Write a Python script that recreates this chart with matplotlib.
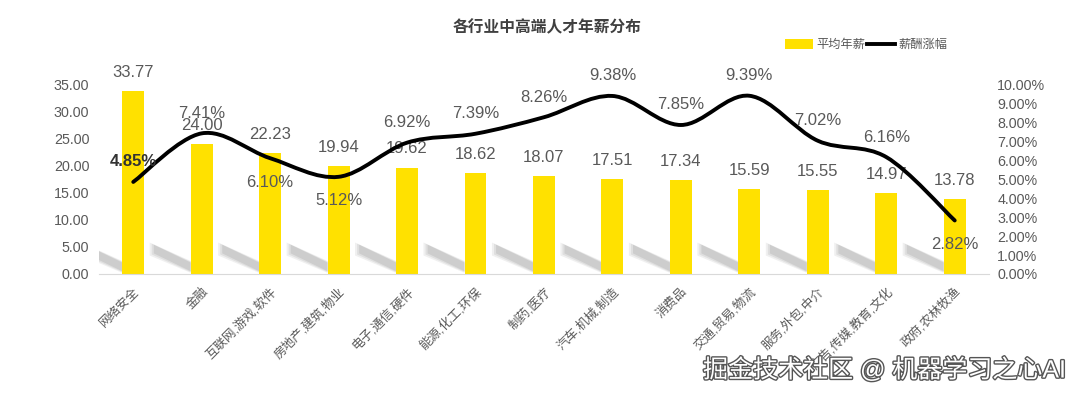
import matplotlib
matplotlib.use("Agg")
import matplotlib.pyplot as plt
import matplotlib.patheffects as pe
from matplotlib.path import Path
from matplotlib.patches import PathPatch, Polygon
from matplotlib.lines import Line2D
from matplotlib.patches import Patch
import numpy as np

plt.rcParams['font.family'] = ['Liberation Sans', 'Noto Sans CJK SC', 'DejaVu Sans']

# data
industries = ['网络安全', '金融', '互联网,游戏,软件', '房地产,建筑,物业', '电子,通信,硬件',
              '能源,化工,环保', '制药,医疗', '汽车,机械,制造', '消费品', '交通,贸易,物流',
              '服务,外包,中介', '广告,传媒,教育,文化', '政府,农林牧渔']
avg_salary = [33.77, 24.00, 22.23, 19.94, 19.62, 18.62, 18.07, 17.51, 17.34, 15.59, 15.55, 14.97, 13.78]
salary_growth = [4.85, 7.41, 6.10, 5.12, 6.92, 7.39, 8.26, 9.38, 7.85, 9.39, 7.02, 6.16, 2.82]
growth_label_pos = ['above', 'above', 'below', 'below', 'above', 'above', 'above',
                    'above', 'above', 'above', 'above', 'above', 'below']

YELLOW = '#FFE100'
GRAY = '#595959'

fig = plt.figure(figsize=(10.8, 3.99), dpi=100)
ax = fig.add_axes([0.0917, 0.3133, 0.824, 0.4757])
ax2 = ax.twinx()

x = np.arange(len(industries))
bar_w = 0.32

# soft diagonal shadows at the bar bases (drawn in layers to fake a blur)
for xi in x:
    xl = xi - bar_w / 2
    for k, a in zip([0.0, 0.5, 1.0], [0.10, 0.13, 0.16]):
        poly = Polygon([(xl, 0.2 + k * 0.3), (xl, 2.4 - k * 0.3),
                        (xl - 0.6 + k * 0.06, 5.8 - k * 0.4), (xl - 0.6 + k * 0.06, 3.4 + k * 0.4)],
                       closed=True, facecolor='#707070', edgecolor='none', alpha=a, zorder=1)
        ax.add_patch(poly)

ax.bar(x, avg_salary, width=bar_w, color=YELLOW, zorder=2)
for xi, v in zip(x, avg_salary):
    ax.annotate(f'{v:.2f}', (xi, v), xytext=(0, 8), textcoords='offset points',
                ha='center', va='bottom', fontsize=12, color=GRAY, zorder=5)

ax.set_xlim(-0.5, len(industries) - 0.5)
ax.set_ylim(0, 35)
ax.set_yticks(np.arange(0, 36, 5))
ax.set_yticklabels([f'{t:.2f}' for t in np.arange(0, 36, 5)])
ax.set_xticks(x)
ax.set_xticklabels(industries, rotation=45, ha='right', va='top', rotation_mode='anchor',
                   fontsize=9, color=GRAY)
ax.tick_params(axis='both', length=0, labelsize=10.3, colors=GRAY)
ax.tick_params(axis='x', labelsize=9, pad=8)
ax.tick_params(axis='y', pad=7)
for s in ['top', 'left', 'right']:
    ax.spines[s].set_visible(False)
ax.spines['bottom'].set_color('#D9D9D9')

# smoothed line (Excel-like Bezier through the points)
pts = np.column_stack([x, salary_growth]).astype(float)
verts = [tuple(pts[0])]
codes = [Path.MOVETO]
n = len(pts)
for i in range(n - 1):
    p0 = pts[i - 1] if i > 0 else pts[i]
    p1 = pts[i]
    p2 = pts[i + 1]
    p3 = pts[i + 2] if i + 2 < n else pts[i + 1]
    c1 = p1 + (p2 - p0) / 6.0
    c2 = p2 - (p3 - p1) / 6.0
    verts += [tuple(c1), tuple(c2), tuple(p2)]
    codes += [Path.CURVE4] * 3
ax2.add_patch(PathPatch(Path(verts, codes), facecolor='none', edgecolor='black',
                        lw=2.8, capstyle='round', zorder=4))
ax2.set_ylim(0, 10)
ax2.set_yticks(np.arange(0, 11, 1))
ax2.set_yticklabels([f'{t:.2f}%' for t in np.arange(0, 11, 1)])
ax2.tick_params(axis='y', length=0, labelsize=10.3, colors=GRAY, pad=6)
for s in ['top', 'left', 'right', 'bottom']:
    ax2.spines[s].set_visible(False)

for i, (xi, v, pos) in enumerate(zip(x, salary_growth, growth_label_pos)):
    dy = 9 if pos == 'above' else -12
    va = 'bottom' if pos == 'above' else 'top'
    first = i == 0
    ax2.annotate(f'{v:.2f}%', (xi, v), xytext=(0, dy), textcoords='offset points',
                 ha='center', va=va, fontsize=12, zorder=6,
                 color='#333333' if first else GRAY,
                 fontweight='bold' if first else 'normal')

fig.text(0.507, 0.93, '各行业中高端人才年薪分布', ha='center', va='center',
         fontsize=11.3, fontweight='bold', color='#404040')

handles = [Patch(facecolor=YELLOW, edgecolor='none'), Line2D([0], [0], color='black', lw=2.8)]
fig.legend(handles, ['平均年薪', '薪酬涨幅'], loc='center', bbox_to_anchor=(0.802, 0.887),
           ncol=2, frameon=False, fontsize=8.8, labelcolor=GRAY, handlelength=2.3,
           handleheight=0.8, handletextpad=0.3, columnspacing=0.1)

fig.text(0.651, 0.073, '掘金技术社区 @ 机器学习之心AI', ha='left', va='center',
         fontsize=18, color='white',
         path_effects=[pe.withStroke(linewidth=2, foreground='#555555')])

fig.savefig('out.png', dpi=100)
